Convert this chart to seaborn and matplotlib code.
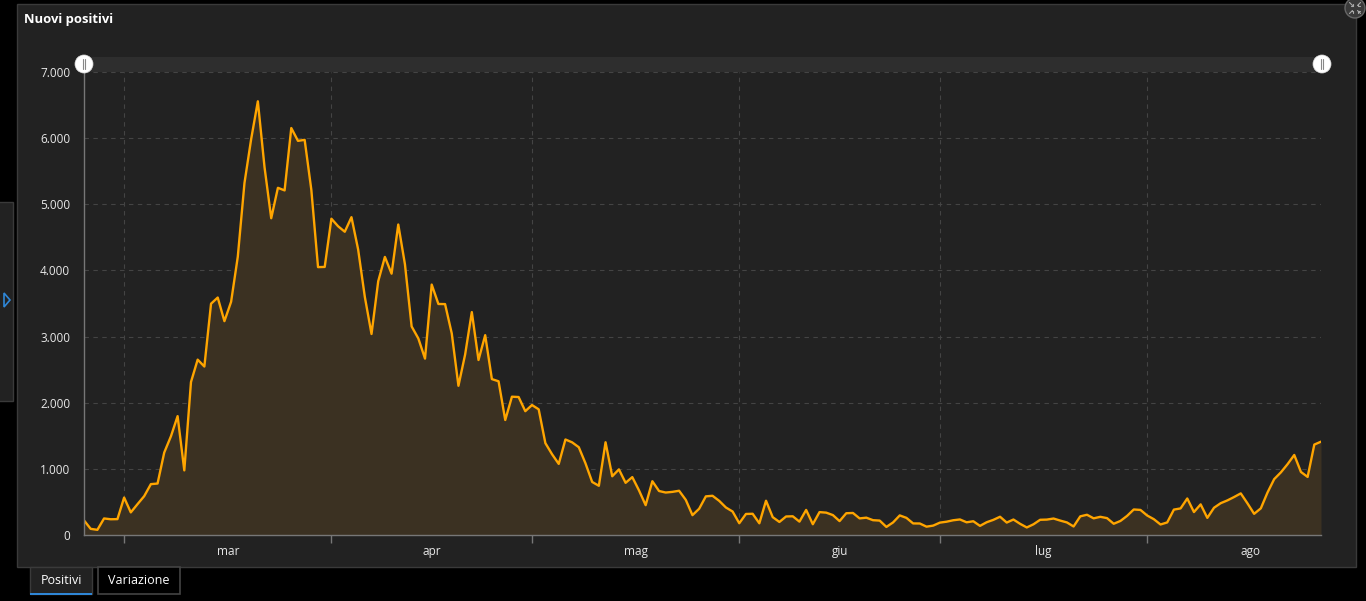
import numpy as np
import pandas as pd
import matplotlib
matplotlib.use("Agg")
import matplotlib.pyplot as plt
import matplotlib.dates as mdates
from matplotlib.patches import Rectangle, Ellipse, Polygon
from matplotlib.lines import Line2D
from matplotlib.ticker import FuncFormatter, FixedLocator
import seaborn as sns

# ---------------- data ----------------
start_date = "2020-02-24"
new_positives = [
    221, 93, 78, 250, 238, 240,
    566, 342, 466, 587, 769, 778, 1247, 1492, 1797, 977, 2313, 2651, 2547, 3497,
    3590, 3233, 3526, 4207, 5322, 5986, 6557, 5560, 4789, 5249, 5210, 6153, 5959,
    5974, 5217, 4050, 4053,
    4782, 4668, 4585, 4805, 4316, 3599, 3039, 3836, 4204, 3951, 4694, 4092, 3153,
    2972, 2667, 3786, 3493, 3491, 3047, 2256, 2729, 3370, 2646, 3021, 2357, 2324,
    1739, 2091, 2086, 1872,
    1965, 1900, 1389, 1221, 1075, 1444, 1401, 1327, 1083, 802, 744, 1402, 888, 992,
    789, 875, 675, 451, 813, 665, 642, 652, 669, 531, 300, 397, 584, 593, 516, 416,
    355,
    178, 318, 321, 177, 518, 270, 197, 280, 283, 202, 379, 163, 346, 338, 301, 210,
    329, 333, 251, 262, 224, 218, 122, 190, 296, 259, 175, 174, 126, 142,
    187, 201, 223, 235, 192, 208, 138, 193, 229, 276, 188, 234, 169, 114, 162, 230,
    233, 249, 218, 190, 129, 282, 306, 252, 275, 255, 170, 212, 289, 386, 379,
    295, 239, 159, 190, 384, 402, 552, 347, 463, 259, 412, 481, 523, 574, 629, 479,
    320, 403, 642, 845, 947, 1071, 1210, 953, 878, 1367, 1411,
]
month_labels = ["mar", "apr", "mag", "giu", "lug", "ago"]
y_ticks = [0, 1000, 2000, 3000, 4000, 5000, 6000, 7000]
title = "Nuovi positivi"
tab_labels = ["Positivi", "Variazione"]

dates = pd.date_range(start_date, periods=len(new_positives), freq="D")
df = pd.DataFrame({"data": dates, "nuovi_positivi": new_positives})

# ---------------- figure ----------------
W, H = 1366, 601
sns.set_theme(style="dark")
plt.rcParams["font.family"] = ["Open Sans", "DejaVu Sans"]

fig = plt.figure(figsize=(W / 100, H / 100), dpi=100, facecolor="#000000")


def fx(px):
    return px / W


def fy(py):
    return 1 - py / H


def circle(cx, cy, r, **kw):
    fig.patches.append(Ellipse((fx(cx), fy(cy)), 2 * r / W, 2 * r / H,
                               transform=fig.transFigure, **kw))


# main panel
fig.patches.append(Rectangle((fx(17), fy(567)), fx(1356) - fx(17), fy(4) - fy(567),
                             transform=fig.transFigure, facecolor="#222222",
                             edgecolor="#3a3a3a", linewidth=1.0, zorder=0))
# left collapsed side tab
fig.patches.append(Rectangle((fx(-2), fy(401)), fx(13) - fx(-2), fy(202) - fy(401),
                             transform=fig.transFigure, facecolor="#222222",
                             edgecolor="#3a3a3a", linewidth=1.0, zorder=0))
fig.patches.append(Polygon([(fx(4), fy(293)), (fx(4), fy(307)), (fx(10), fy(300))],
                           closed=True, transform=fig.transFigure, facecolor="none",
                           edgecolor="#2f86d6", linewidth=1.2, zorder=1))
# top-right icon (compress arrows)
circle(1355, 8, 10, facecolor="#3a3a3a", edgecolor="#666666", linewidth=1.0, zorder=2)
for sx in (-1, 1):
    for sy in (-1, 1):
        fig.lines.append(Line2D([fx(1355 + sx * 5.5), fx(1355 + sx * 2.5)],
                                [fy(8 + sy * 5.5), fy(8 + sy * 2.5)],
                                transform=fig.transFigure, color="#aaaaaa",
                                linewidth=0.8, zorder=3))
        fig.lines.append(Line2D([fx(1355 + sx * 2.5), fx(1355 + sx * 2.5), fx(1355 + sx * 4.5)],
                                [fy(8 + sy * 4.5), fy(8 + sy * 2.5), fy(8 + sy * 2.5)],
                                transform=fig.transFigure, color="#aaaaaa",
                                linewidth=0.8, zorder=3))

# title
fig.text(fx(24), fy(20), title, color="#ffffff", fontsize=9.4, fontweight="bold",
         ha="left", va="center")

# bottom tabs
fig.patches.append(Rectangle((fx(30), fy(594)), fx(92) - fx(30), fy(567) - fy(594),
                             transform=fig.transFigure, facecolor="#222222",
                             edgecolor="#3a3a3a", linewidth=1.0, zorder=1))
fig.patches.append(Rectangle((fx(30), fy(595)), fx(92) - fx(30), 2.5 / H,
                             transform=fig.transFigure, facecolor="#2f86d6",
                             edgecolor="none", zorder=2))
fig.patches.append(Rectangle((fx(98), fy(594)), fx(180) - fx(98), fy(567) - fy(594),
                             transform=fig.transFigure, facecolor="#000000",
                             edgecolor="#444444", linewidth=1.2, zorder=1))
fig.text(fx(61), fy(580), tab_labels[0], color="#ffffff", fontsize=9, ha="center", va="center")
fig.text(fx(139), fy(580), tab_labels[1], color="#ffffff", fontsize=9, ha="center", va="center")

# slider bar
fig.patches.append(Rectangle((fx(84), fy(72)), fx(1321) - fx(84), fy(57) - fy(72),
                             transform=fig.transFigure, facecolor="#2e2e2e",
                             edgecolor="none", zorder=1))

# axes
ax = fig.add_axes([fx(84), fy(535), fx(1321) - fx(84), fy(72) - fy(535)])
ax.set_zorder(3)
ax.patch.set_alpha(0)

sns.lineplot(data=df, x="data", y="nuovi_positivi", ax=ax, color="#ffa500",
             linewidth=1.7, zorder=4)
ax.fill_between(df["data"], df["nuovi_positivi"], 0, color="#3b3122", zorder=2, linewidth=0)

ax.set_xlim(dates[0], dates[-1])
ax.set_ylim(y_ticks[0], y_ticks[-1])
ax.set_xlabel("")
ax.set_ylabel("")

# x: month boundary ticks (major) and centered month labels (minor)
month_starts = pd.date_range("2020-03-01", periods=len(month_labels), freq="MS")
month_ends = month_starts + pd.offsets.MonthBegin(1)
mids = [mdates.date2num(s) + (mdates.date2num(e) - mdates.date2num(s)) / 2
        for s, e in zip(month_starts, month_ends)]
ax.xaxis.set_major_locator(FixedLocator(mdates.date2num(month_starts)))
ax.xaxis.set_major_formatter(FuncFormatter(lambda v, p: ""))
ax.xaxis.set_minor_locator(FixedLocator(mids))
ax.xaxis.set_minor_formatter(FuncFormatter(
    lambda v, p: month_labels[p] if p is not None and p < len(month_labels) else ""))
ax.tick_params(axis="x", which="major", length=6, width=1, color="#777777", direction="out",
               bottom=True)
ax.tick_params(axis="x", which="minor", length=0, labelsize=8.5, labelcolor="#e8e8e8", pad=7,
               bottom=True)

# y ticks
ax.yaxis.set_major_locator(FixedLocator(y_ticks))
ax.yaxis.set_major_formatter(FuncFormatter(lambda v, p: f"{int(v):,}".replace(",", ".")))
ax.tick_params(axis="y", which="major", length=0, labelsize=8.5, labelcolor="#e8e8e8", pad=10)

# grid
ax.grid(True, which="major", axis="both", color="#444444", linestyle=(0, (4, 4)),
        linewidth=0.8, zorder=1)
ax.set_axisbelow(True)

for side in ["top", "right"]:
    ax.spines[side].set_visible(False)
for side in ["left", "bottom"]:
    ax.spines[side].set_visible(True)
    ax.spines[side].set_color("#777777")
    ax.spines[side].set_linewidth(1.0)
    ax.spines[side].set_zorder(5)

# slider handles (drawn above axes)
for hx in (84, 1322):
    e = Ellipse((fx(hx), fy(64)), 18 / W, 18 / H, transform=fig.transFigure,
                facecolor="#ffffff", edgecolor="#dddddd", linewidth=0.5, zorder=6)
    fig.artists.append(e)
    for dx in (-1.3, 1.3):
        fig.lines.append(Line2D([fx(hx + dx), fx(hx + dx)], [fy(59), fy(69)],
                                transform=fig.transFigure, color="#888888",
                                linewidth=0.8, zorder=7))

fig.savefig("out.png", dpi=100, facecolor=fig.get_facecolor())
